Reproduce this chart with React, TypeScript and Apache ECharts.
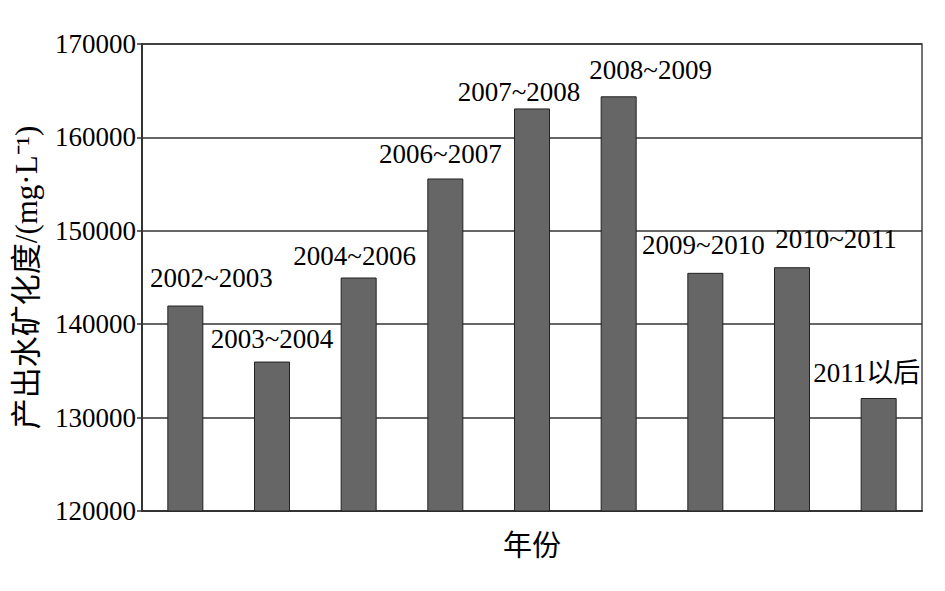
import React, { useEffect, useRef } from "react";
import * as echarts from "echarts";

const categories = [
  "2002~2003",
  "2003~2004",
  "2004~2006",
  "2006~2007",
  "2007~2008",
  "2008~2009",
  "2009~2010",
  "2010~2011",
  "2011以后",
];
const values = [142000, 136000, 145000, 155600, 163100, 164400, 145500, 146100, 132100];
const yTicks = { min: 120000, max: 170000, interval: 10000 };
const xName = "年份";
const yName = "产出水矿化度/(mg·L⁻¹)";

const FONT = "'Liberation Serif', 'Times New Roman', 'Noto Sans CJK SC', serif";

export default function App() {
  const ref = useRef<HTMLDivElement>(null);
  useEffect(() => {
    if (!ref.current) return;
    const chart = echarts.init(ref.current, undefined, { renderer: "svg" });
    // label layout tweaks (positions only)
    const labelOffsets: [number, number][] = [
      [26, -14],
      [0, -9],
      [-4, -8],
      [-5, -11],
      [-13, -3],
      [32, -13],
      [-2, -14],
      [44, -15],
      [-12, -12],
    ];
    chart.setOption({
      animation: false,
      backgroundColor: "#ffffff",
      grid: {
        left: 142,
        right: 23,
        top: 44,
        bottom: 80,
        show: true,
        borderColor: "#444",
        borderWidth: 1.5,
        backgroundColor: "transparent",
      },
      xAxis: {
        type: "category",
        data: categories,
        name: xName,
        nameLocation: "middle",
        nameGap: 20,
        nameTextStyle: { fontFamily: FONT, fontSize: 29, color: "#000" },
        axisLabel: { show: false },
        axisTick: { show: false },
        axisLine: { show: true, lineStyle: { color: "#333", width: 2 } },
      },
      yAxis: {
        type: "value",
        min: yTicks.min,
        max: yTicks.max,
        interval: yTicks.interval,
        name: yName,
        nameLocation: "middle",
        nameGap: 100,
        nameTextStyle: { fontFamily: FONT, fontSize: 31, color: "#000" },
        axisLine: { show: true, lineStyle: { color: "#333", width: 2 } },
        axisTick: { show: true, length: 5, lineStyle: { color: "#333", width: 1.5 } },
        axisLabel: {
          fontFamily: FONT,
          fontSize: 27,
          color: "#000",
          margin: 6,
          formatter: (v: number) => String(v),
        },
        splitLine: { show: true, lineStyle: { color: "#333", width: 1.5 } },
      },
      series: [
        {
          type: "bar",
          barWidth: 36,
          data: values.map((v, i) => ({
            value: v,
            label: {
              show: true,
              position: "top",
              distance: 0,
              offset: labelOffsets[i],
              formatter: categories[i],
              fontFamily: FONT,
              fontSize: 27,
              color: "#000",
            },
          })),
          itemStyle: { color: "#666666", borderColor: "#222", borderWidth: 1 },
        },
      ],
    });
    return () => chart.dispose();
  }, []);
  return (
    <div
      ref={ref}
      style={{ position: "fixed", left: 0, top: 0, width: 945, height: 591, background: "#fff" }}
    />
  );
}
